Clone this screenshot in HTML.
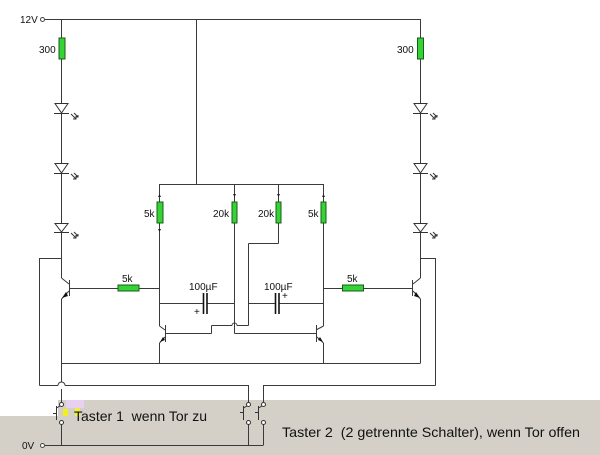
<!DOCTYPE html>
<html><head><meta charset="utf-8"><style>
html,body{margin:0;padding:0;background:#fff;}
svg{display:block;}
text{font-family:"Liberation Sans",Arial,sans-serif;fill:#111;white-space:pre;}
</style></head><body>
<svg width="600" height="455" viewBox="0 0 600 455" xmlns="http://www.w3.org/2000/svg" xml:space="preserve">
<!-- grey background -->
<polygon points="58,400 600,400 600,455 0,455 0,416 58,416" fill="#d4d0c8"/>
<!-- artifacts near Taster 1 -->
<rect x="66" y="400" width="18" height="8" fill="#e8d0f0"/>
<rect x="63" y="409" width="5" height="7" fill="#f0f020"/>
<rect x="75" y="408" width="5" height="8" fill="#eef040"/>

<g stroke="#3a3a3a" stroke-width="1" fill="none">
<!-- top rail -->
<line x1="45" y1="19.5" x2="421" y2="19.5"/>
<line x1="196.5" y1="19" x2="196.5" y2="184"/>
<!-- left column -->
<line x1="61.5" y1="19" x2="61.5" y2="278"/>
<line x1="39.5" y1="258.5" x2="61.5" y2="258.5"/>
<line x1="39.5" y1="258" x2="39.5" y2="385.5"/>
<line x1="39.5" y1="385.5" x2="58" y2="385.5"/>
<path d="M58,385.5 A3.5,3.5 0 0 1 65,385.5"/>
<line x1="65" y1="385.5" x2="248.5" y2="385.5"/>
<line x1="248.5" y1="385" x2="248.5" y2="402"/>
<!-- left output transistor -->
<line x1="61.5" y1="278" x2="69" y2="284"/>
<line x1="69.5" y1="280" x2="69.5" y2="296"/>
<line x1="69" y1="291" x2="61.5" y2="299"/>
<line x1="61.5" y1="299" x2="61.5" y2="382"/>
<line x1="61.5" y1="389" x2="61.5" y2="402"/>
<line x1="61.5" y1="424" x2="61.5" y2="445"/>
<line x1="69" y1="288.5" x2="159.5" y2="288.5"/>
<!-- right column -->
<line x1="420.5" y1="19" x2="420.5" y2="278"/>
<line x1="420.5" y1="258.5" x2="435.5" y2="258.5"/>
<line x1="435.5" y1="258" x2="435.5" y2="385.5"/>
<line x1="263.5" y1="385.5" x2="435.5" y2="385.5"/>
<line x1="263.5" y1="385" x2="263.5" y2="402"/>
<line x1="420.5" y1="278" x2="413" y2="284"/>
<line x1="412.5" y1="280" x2="412.5" y2="296"/>
<line x1="413" y1="291" x2="420.5" y2="299"/>
<line x1="420.5" y1="299" x2="420.5" y2="363"/>
<line x1="323.5" y1="288.5" x2="413" y2="288.5"/>
<!-- emitter rail -->
<line x1="61.5" y1="363.5" x2="420.5" y2="363.5"/>
<!-- 0V rail -->
<line x1="45" y1="445.5" x2="263.5" y2="445.5"/>
<line x1="248.5" y1="424" x2="248.5" y2="445"/>
<line x1="263.5" y1="424" x2="263.5" y2="445"/>
<!-- inner top rail -->
<line x1="159.5" y1="184.5" x2="323.5" y2="184.5"/>
<!-- inner columns -->
<line x1="159.5" y1="184" x2="159.5" y2="326"/>
<line x1="234.5" y1="184" x2="234.5" y2="333.5"/>
<line x1="278.5" y1="184" x2="278.5" y2="243.5"/>
<line x1="278.5" y1="243.5" x2="248.5" y2="243.5"/>
<line x1="248.5" y1="243.5" x2="248.5" y2="325.5"/>
<line x1="323.5" y1="184" x2="323.5" y2="326"/>
<!-- cross wiring -->
<line x1="248.5" y1="325.5" x2="237" y2="325.5"/>
<path d="M237,325.5 A2.5,2.5 0 0 0 232,325.5"/>
<line x1="232" y1="325.5" x2="211.5" y2="325.5"/>
<line x1="211.5" y1="325.5" x2="211.5" y2="333.5"/>
<line x1="211.5" y1="333.5" x2="165" y2="333.5"/>
<line x1="234.5" y1="333.5" x2="316" y2="333.5"/>
<!-- left inner transistor -->
<line x1="159.5" y1="326" x2="165" y2="330"/>
<line x1="165.5" y1="325" x2="165.5" y2="342"/>
<line x1="165" y1="337" x2="159.5" y2="343"/>
<line x1="159.5" y1="343" x2="159.5" y2="363"/>
<!-- right inner transistor -->
<line x1="323.5" y1="326" x2="316" y2="330"/>
<line x1="316.5" y1="325" x2="316.5" y2="342"/>
<line x1="317" y1="337" x2="323.5" y2="343"/>
<line x1="323.5" y1="343" x2="323.5" y2="363"/>
<!-- capacitors -->
<line x1="159.5" y1="303.5" x2="203" y2="303.5"/>
<line x1="207" y1="303.5" x2="234.5" y2="303.5"/>
<line x1="248.5" y1="303.5" x2="275" y2="303.5"/>
<line x1="279" y1="303.5" x2="323.5" y2="303.5"/>
</g>
<g stroke="#111" stroke-width="1.6">
<line x1="203.5" y1="293" x2="203.5" y2="314"/>
<line x1="207" y1="293" x2="207" y2="314"/>
<line x1="275.5" y1="293" x2="275.5" y2="314"/>
<line x1="279" y1="293" x2="279" y2="314"/>
</g>
<!-- emitter arrows -->
<g fill="#111">
<polygon points="62,298 66,292 68,296"/>
<polygon points="160,342 163,337 165,340"/>
<polygon points="323,342 318,340 320,337"/>
<polygon points="420,298 414,296 416,292"/>
</g>
<!-- circles for terminals -->
<g fill="#fff" stroke="#444" stroke-width="1">
<circle cx="42.5" cy="19.5" r="2"/>
<circle cx="42.5" cy="445.5" r="2"/>
</g>
<!-- switches -->
<g stroke="#333" stroke-width="1" fill="none">
<circle cx="61.5" cy="404.5" r="2" fill="#fff"/>
<circle cx="61.5" cy="422.5" r="2" fill="#fff"/>
<line x1="56.5" y1="406" x2="56.5" y2="420"/>
<line x1="53" y1="413.5" x2="56.5" y2="413.5"/>
<line x1="60" y1="406" x2="56.5" y2="408"/>
<circle cx="248.5" cy="404.5" r="2" fill="#fff"/>
<circle cx="248.5" cy="422.5" r="2" fill="#fff"/>
<line x1="243.5" y1="406" x2="243.5" y2="420"/>
<line x1="240" y1="412.5" x2="243.5" y2="412.5"/>
<line x1="247" y1="406" x2="243.5" y2="408"/>
<circle cx="263.5" cy="404.5" r="2" fill="#fff"/>
<circle cx="263.5" cy="422.5" r="2" fill="#fff"/>
<line x1="258.5" y1="406" x2="258.5" y2="420"/>
<line x1="255" y1="412.5" x2="258.5" y2="412.5"/>
<line x1="262" y1="406" x2="258.5" y2="408"/>
</g>
<!-- resistors -->
<g fill="#33d433" stroke="#1d5a1d" stroke-width="1">
<rect x="59" y="38" width="6" height="21"/>
<rect x="417.5" y="38" width="6" height="21"/>
<rect x="157" y="202" width="6" height="21"/>
<rect x="232" y="202" width="5" height="21"/>
<rect x="276" y="202" width="5" height="21"/>
<rect x="321" y="202" width="5" height="21"/>
<rect x="118" y="285" width="21" height="6"/>
<rect x="342.5" y="285" width="21" height="6"/>
</g>
<!-- terminal marks on inner resistors -->
<g fill="#222">
<polygon points="158,197 161,197 159.5,194"/>
<polygon points="158,229 161,229 159.5,232"/>
<polygon points="233,194 236,194 234.5,197"/>
<polygon points="277,194 280,194 278.5,197"/>
<polygon points="322,197 325,197 323.5,194"/>
</g>
<!-- LEDs -->
<g stroke="#333" stroke-width="1" fill="#fff">
<polygon points="55,103.5 68,103.5 61.5,113"/>
<polygon points="55,163.5 68,163.5 61.5,173"/>
<polygon points="55,223.5 68,223.5 61.5,232"/>
<polygon points="414,103.5 427,103.5 420.5,113"/>
<polygon points="414,163.5 427,163.5 420.5,173"/>
<polygon points="414,223.5 427,223.5 420.5,232"/>
</g>
<g stroke="#333" stroke-width="1" fill="none">
<line x1="54" y1="113.5" x2="69" y2="113.5"/>
<line x1="54" y1="173.5" x2="69" y2="173.5"/>
<line x1="54" y1="232.5" x2="69" y2="232.5"/>
<line x1="413" y1="113.5" x2="428" y2="113.5"/>
<line x1="413" y1="173.5" x2="428" y2="173.5"/>
<line x1="413" y1="232.5" x2="428" y2="232.5"/>
<path d="M71,114 l5,5 m-3,0 h3 v-3 M74,113 l4,4 m-2,0 h2 v-2"/>
<path d="M71,174 l5,5 m-3,0 h3 v-3 M74,173 l4,4 m-2,0 h2 v-2"/>
<path d="M71,233 l5,5 m-3,0 h3 v-3 M74,232 l4,4 m-2,0 h2 v-2"/>
<path d="M430,114 l5,5 m-3,0 h3 v-3 M433,113 l4,4 m-2,0 h2 v-2"/>
<path d="M430,174 l5,5 m-3,0 h3 v-3 M433,173 l4,4 m-2,0 h2 v-2"/>
<path d="M430,233 l5,5 m-3,0 h3 v-3 M433,232 l4,4 m-2,0 h2 v-2"/>
</g>
<!-- labels -->
<g font-size="10">
<text x="20" y="23">12V</text>
<text x="22" y="449">0V</text>
<text x="39" y="53">300</text>
<text x="397" y="53">300</text>
<text x="144" y="217">5k</text>
<text x="213" y="217">20k</text>
<text x="258" y="217">20k</text>
<text x="308" y="217">5k</text>
<text x="122" y="282">5k</text>
<text x="347" y="282">5k</text>
<text x="189" y="290">100µF</text>
<text x="264" y="290">100µF</text>
<text x="194" y="315">+</text>
<text x="282" y="299">+</text>
</g>
<g font-size="14">
<text x="74" y="421" textLength="133" lengthAdjust="spacingAndGlyphs">Taster 1  wenn Tor zu</text>
<text x="282" y="437" textLength="298" lengthAdjust="spacingAndGlyphs">Taster 2  (2 getrennte Schalter), wenn Tor offen</text>
</g>
</svg>
</body></html>
